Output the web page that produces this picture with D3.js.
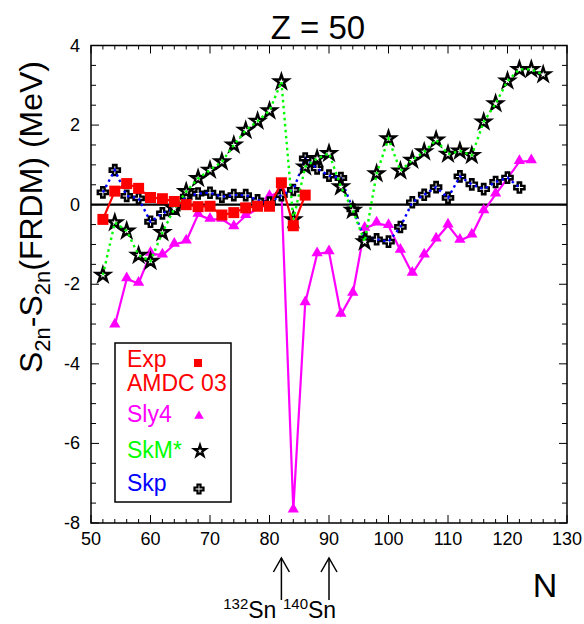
<!DOCTYPE html>
<html><head><meta charset="utf-8">
<script src="https://cdn.jsdelivr.net/npm/d3@7"></script>
<style>body{margin:0;background:#fff;} text{font-family:"Liberation Sans",Arial,sans-serif;}</style>
</head><body>
<svg id="c" width="584" height="624"></svg>
<script>
const xTicks = [50,60,70,80,90,100,110,120,130];
const yTicks = [-8,-6,-4,-2,0,2,4];

const expN = [52,54,56,58,60,62,64,66,68,70,72,74,76,78,80,82,84,86];
const expV = [-0.37,0.34,0.53,0.41,0.18,0.15,0.08,0.0,-0.05,-0.04,-0.26,-0.2,-0.08,-0.04,-0.04,0.55,-0.53,0.24];

const sly4N = [54,56,58,60,62,64,66,68,70,72,74,76,78,80,82,84,86,88,90,92,94,96,98,100,102,104,106,108,110,112,114,116,118,120,122,124];
const sly4V = [-3.03,-1.87,-1.98,-1.23,-1.27,-1.0,-0.92,-0.25,-0.37,-0.37,-0.56,-0.28,-0.1,0.2,0.35,-7.68,-2.47,-1.24,-1.19,-2.76,-2.23,-0.6,-0.47,-0.53,-1.15,-1.73,-1.27,-0.87,-0.52,-0.9,-0.77,-0.16,0.26,0.66,1.08,1.1];

const skmN = [52,54,56,58,60,62,64,66,68,70,72,74,76,78,80,82,84,86,88,90,92,94,96,98,100,102,104,106,108,110,112,114,116,118,120,122,124,126];
const skmV = [-1.77,-0.45,-0.66,-1.27,-1.42,-0.7,-0.1,0.33,0.66,0.87,1.08,1.5,1.87,2.1,2.36,3.09,-0.38,0.95,1.16,1.29,0.45,-0.14,-0.93,0.78,1.66,0.85,1.12,1.33,1.63,1.27,1.35,1.24,2.08,2.54,3.11,3.4,3.4,3.27];

const skpN = [52,54,56,58,60,62,64,66,68,70,72,74,76,78,80,82,84,86,88,90,92,94,96,98,100,102,104,106,108,110,112,114,116,118,120,122];
const skpV = [0.31,0.87,0.22,0.16,-0.43,-0.22,-0.1,0.2,0.28,0.3,0.2,0.24,0.24,0.11,0.05,0.24,0.37,1.16,0.91,0.73,0.67,-0.12,-0.85,-0.87,-0.93,-0.56,0.06,0.25,0.44,0.17,0.71,0.51,0.39,0.57,0.68,0.43];

const legendNames = ["Exp","AMDC 03","Sly4","SkM*","Skp"];

const svg = d3.select("#c");
const L=91, R=567, T=45.5, B=523;
const x = d3.scaleLinear().domain([50,130]).range([L,R]);
const y = d3.scaleLinear().domain([-8,4]).range([B,T]);
const zip = (a,b)=>a.map((n,i)=>[n,b[i]]);

svg.append("rect").attr("x",L).attr("y",T).attr("width",R-L).attr("height",B-T)
  .attr("fill","none").attr("stroke","#000").attr("stroke-width",1.5);

const minorX = d3.range(50,131,2);
const minorY = d3.range(-8,4.01,0.5);
const tk = svg.append("g").attr("stroke","#000").attr("stroke-width",1);
minorX.forEach(v=>{
  const len = v%10===0?8:4;
  tk.append("line").attr("x1",x(v)).attr("x2",x(v)).attr("y1",B).attr("y2",B-len);
  tk.append("line").attr("x1",x(v)).attr("x2",x(v)).attr("y1",T).attr("y2",T+len);
});
minorY.forEach(v=>{
  const len = v%2===0?8:5;
  tk.append("line").attr("x1",L).attr("x2",L+len).attr("y1",y(v)).attr("y2",y(v));
  tk.append("line").attr("x1",R).attr("x2",R-len).attr("y1",y(v)).attr("y2",y(v));
});

svg.append("g").selectAll("text").data(xTicks).join("text")
  .attr("x",d=>x(d)).attr("y",545).attr("text-anchor","middle")
  .attr("font-size",18).text(d=>d);
svg.append("g").selectAll("text").data(yTicks).join("text")
  .attr("x",80).attr("y",d=>y(d)+6).attr("text-anchor","end")
  .attr("font-size",18).text(d=>d);

svg.append("line").attr("x1",L).attr("x2",R).attr("y1",y(0)).attr("y2",y(0))
  .attr("stroke","#000").attr("stroke-width",2.2);

const line = d3.line().x(d=>x(d[0])).y(d=>y(d[1]));

const sly = zip(sly4N,sly4V);
svg.append("path").attr("d",line(sly)).attr("fill","none").attr("stroke","#ff00ff").attr("stroke-width",2.2);
svg.append("g").selectAll("path").data(sly).join("path")
  .attr("d",d3.symbol().type(d3.symbolTriangle).size(55))
  .attr("transform",d=>`translate(${x(d[0])},${y(d[1])-1})`).attr("fill","#ff00ff");

const skp = zip(skpN,skpV);
svg.append("g").selectAll("path").data(skp).join("path")
  .attr("d",d3.symbol().type(d3.symbolCross).size(58))
  .attr("transform",d=>`translate(${x(d[0])},${y(d[1])})`)
  .attr("fill","#fff").attr("stroke","#000").attr("stroke-width",2.4);
svg.append("path").attr("d",line(skp)).attr("fill","none").attr("stroke","#0000ff")
  .attr("stroke-width",2.4).attr("stroke-dasharray","2.5,3.5");

const skm = zip(skmN,skmV);
svg.append("g").selectAll("path").data(skm).join("path")
  .attr("d",d3.symbol().type(d3.symbolStar).size(58))
  .attr("transform",d=>`translate(${x(d[0])},${y(d[1])})`)
  .attr("fill","#fff").attr("stroke","#000").attr("stroke-width",2.4);
svg.append("path").attr("d",line(skm)).attr("fill","none").attr("stroke","#00ff00")
  .attr("stroke-width",2.4).attr("stroke-dasharray","2.5,3.5");

const ex = zip(expN,expV);
svg.append("path").attr("d",line(ex)).attr("fill","none").attr("stroke","#ff0000").attr("stroke-width",2.2);
svg.append("g").selectAll("rect").data(ex).join("rect")
  .attr("x",d=>x(d[0])-5.5).attr("y",d=>y(d[1])-5.5).attr("width",11).attr("height",11)
  .attr("fill","#ff0000");

const lg = svg.append("g");
lg.append("rect").attr("x",115).attr("y",343).attr("width",116).attr("height",159)
  .attr("fill","#fff").attr("stroke","#000").attr("stroke-width",1.5);
const lgCols = ["#ff0000","#ff0000","#ff00ff","#00ff00","#0000ff"];
const lgY = [367,391,422,458,491];
legendNames.forEach((n,i)=>{
  lg.append("text").attr("x",127).attr("y",lgY[i]).attr("font-size",23).attr("fill",lgCols[i]).text(n);
});
lg.append("rect").attr("x",194).attr("y",359).attr("width",8).attr("height",8).attr("fill","#ff0000");
lg.append("path").attr("d",d3.symbol().type(d3.symbolTriangle).size(40)).attr("transform","translate(199,416)").attr("fill","#ff00ff");
lg.append("path").attr("d",d3.symbol().type(d3.symbolStar).size(40)).attr("transform","translate(200,451)")
  .attr("fill","#fff").attr("stroke","#000").attr("stroke-width",2.2);
lg.append("path").attr("d",d3.symbol().type(d3.symbolCross).size(45)).attr("transform","translate(199,489)")
  .attr("fill","#fff").attr("stroke","#000").attr("stroke-width",2.2);

svg.append("text").attr("x",318).attr("y",39).attr("text-anchor","middle").attr("font-size",33).text("Z = 50");

const yl = svg.append("text").attr("transform","translate(42,217) rotate(-90)")
  .attr("text-anchor","middle").attr("font-size",32);
yl.append("tspan").text("S");
yl.append("tspan").attr("font-size",22).attr("dy",8).text("2n");
yl.append("tspan").attr("dy",-8).text("-S");
yl.append("tspan").attr("font-size",22).attr("dy",8).text("2n");
yl.append("tspan").attr("dy",-8).text("(FRDM) (MeV)");

svg.append("text").attr("x",545).attr("y",597).attr("text-anchor","middle").attr("font-size",34).text("N");

const arrowN = [82,90];
const arrowLbl = [["132","Sn"],["140","Sn"]];
arrowN.forEach((n,i)=>{
  const ax = x(n);
  svg.append("line").attr("x1",ax).attr("x2",ax).attr("y1",600).attr("y2",558).attr("stroke","#000").attr("stroke-width",1.5);
  svg.append("path").attr("d",`M${ax-8},${572} L${ax},${558} L${ax+8},${572}`).attr("fill","none").attr("stroke","#000").attr("stroke-width",1.5);
  const t = svg.append("text").attr("y",618).attr("font-size",23)
    .attr("x", i===0 ? ax-5 : ax-46).attr("text-anchor", "start");
  if (i===0) t.attr("text-anchor","end");
  t.append("tspan").attr("font-size",15).attr("dy",-9).text(arrowLbl[i][0]);
  t.append("tspan").attr("dy",9).text(arrowLbl[i][1]);
});
</script>
</body></html>
